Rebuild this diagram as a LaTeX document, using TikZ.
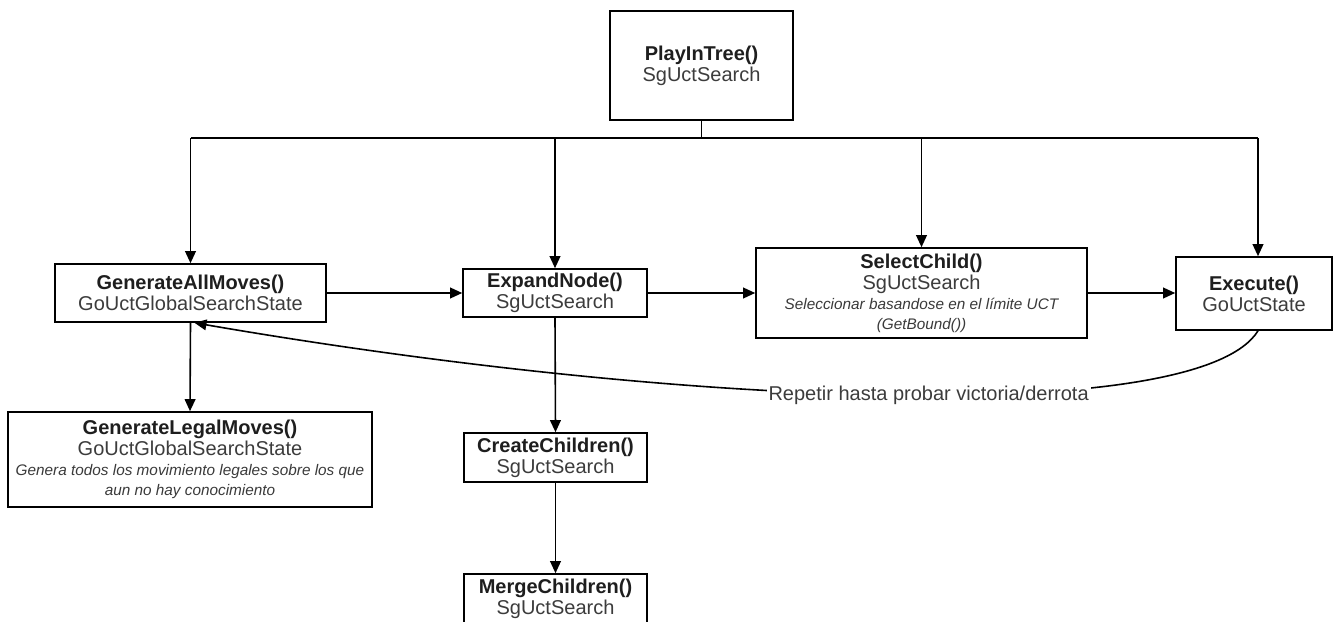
\documentclass[tikz,border=0pt]{standalone}
\usepackage{fontspec}
\setmainfont{Liberation Sans}
\usetikzlibrary{arrows.meta}

\definecolor{titlecol}{HTML}{1E1E1E}
\definecolor{classcol}{HTML}{3C3C3C}
\definecolor{notecol}{HTML}{3A3A3A}

% text styles inside the boxes
\newcommand{\fname}[1]{{\bfseries\color{titlecol}#1}}
\newcommand{\cname}[1]{{\color{classcol}#1}}
\newcommand{\fnote}[1]{{\fontsize{11.5}{15}\selectfont\itshape\color{notecol}#1}}

\begin{document}
\begin{tikzpicture}[x=0.75pt,y=-0.75pt,
  box/.style={draw, line width=1.2pt, inner sep=0pt, align=center, fill=white,
    font=\fontsize{15}{15.75}\selectfont},
  link/.style={line width=1.2pt},
  arr/.style={line width=1.2pt, -{Triangle[length=9pt,width=8pt]}},
  loopnote/.style={fill=white, inner sep=1.5pt, font=\fontsize{15}{15.75}\selectfont, text=classcol}
]
\useasboundingbox (0,0) rectangle (1334,621);

% call hierarchy boxes
\node[box, minimum width=137.25pt, minimum height=81.75pt] (play) at (701.5,65.5)
  {\fname{PlayInTree()}\\\cname{SgUctSearch}};
\node[box, minimum width=203.25pt, minimum height=43.5pt] (gam) at (190.5,293)
  {\fname{GenerateAllMoves()}\\\cname{GoUctGlobalSearchState}};
\node[box, minimum width=138pt, minimum height=36pt] (exp) at (555,293)
  {\fname{ExpandNode()}\\\cname{SgUctSearch}};
\node[box, minimum width=248.25pt, minimum height=67.5pt] (sel) at (921.5,293)
  {\fname{SelectChild()}\\\cname{SgUctSearch}\\[-0.75pt]\fnote{Seleccionar basandose en el límite UCT}\\[-0.75pt]\fnote{(GetBound())}};
\node[box, minimum width=117pt, minimum height=54.75pt] (exec) at (1254,293.5)
  {\fname{Execute()}\\\cname{GoUctState}};
\node[box, minimum width=273pt, minimum height=71.25pt] (glm) at (190,459.5)
  {\fname{GenerateLegalMoves()}\\\cname{GoUctGlobalSearchState}\\[-0.75pt]\fnote{Genera todos los movimiento legales sobre los que}\\[-0.75pt]\fnote{aun no hay conocimiento}};
\node[box, minimum width=137.25pt, minimum height=36.75pt] (cc) at (555.5,457.5)
  {\fname{CreateChildren()}\\\cname{SgUctSearch}};
\node[box, minimum width=137.25pt, minimum height=37.5pt] (mc) at (555.5,599)
  {\fname{MergeChildren()}\\\cname{SgUctSearch}};

% distribution bus under PlayInTree
\coordinate (bus) at (0,138);
\coordinate (xexec) at (1258,0);
\draw[link] (play.south) -- (play.south |- bus);
\draw[link] (gam.north |- bus) -- (xexec |- bus);
\draw[arr] (gam.north |- bus) -- (gam.north);
\draw[arr] (exp.north |- bus) -- (exp.north);
\draw[arr] (sel.north |- bus) -- (sel.north);
\draw[arr] (xexec |- bus) -- (xexec |- exec.north);

% sequence along the row
\draw[arr] (gam.east) -- (exp.west);
\draw[arr] (exp.east) -- (sel.west);
\draw[arr] (sel.east) -- (exec.west |- sel.east);

% sub-calls
\draw[arr] (gam.south) -- (glm.north);
\draw[arr] (exp.south) -- (cc.north);
\draw[arr] (cc.south) -- (mc.north);

% loop back from Execute to GenerateAllMoves
\draw[arr] (xexec |- exec.south) .. controls (1200,425) and (700,410) .. ([xshift=3pt]gam.south)
  node[loopnote, pos=0.47] (rep) {Repetir hasta probar victoria/derrota};
\end{tikzpicture}
\end{document}
